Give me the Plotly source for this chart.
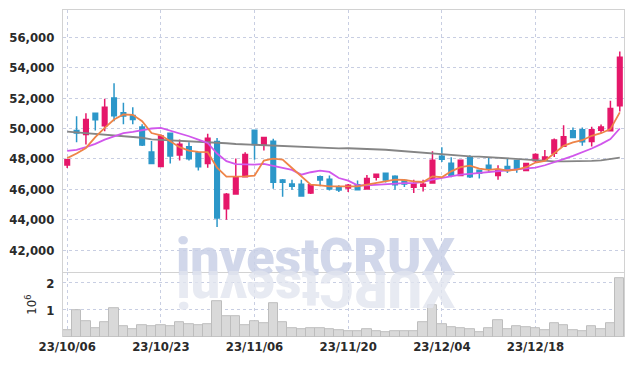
import plotly.graph_objects as go
from plotly.subplots import make_subplots

dates = ["23/10/06", "23/10/10", "23/10/11", "23/10/12", "23/10/13", "23/10/16", "23/10/17", "23/10/18", "23/10/19", "23/10/20",
         "23/10/23", "23/10/24", "23/10/25", "23/10/26", "23/10/27", "23/10/30", "23/10/31", "23/11/01", "23/11/02", "23/11/03",
         "23/11/06", "23/11/07", "23/11/08", "23/11/09", "23/11/10", "23/11/13", "23/11/14", "23/11/15", "23/11/16", "23/11/17",
         "23/11/20", "23/11/21", "23/11/22", "23/11/23", "23/11/24", "23/11/27", "23/11/28", "23/11/29", "23/11/30", "23/12/01",
         "23/12/04", "23/12/05", "23/12/06", "23/12/07", "23/12/08", "23/12/11", "23/12/12", "23/12/13", "23/12/14", "23/12/15",
         "23/12/18", "23/12/19", "23/12/20", "23/12/21", "23/12/22", "23/12/26", "23/12/27", "23/12/28", "24/01/02", "24/01/03"]

open_ = [47600, 49870, 49600, 51000, 50180, 52000, 51040, 50850, 50100, 48450,
         47490, 49690, 48260, 48790, 48400, 47700, 49140, 44720, 45690, 46830,
         49890, 48940, 49160, 46610, 46350, 46330, 45750, 46830, 46660, 46110,
         46080, 46300, 46020, 46790, 47050, 46850, 46570, 46130, 46190, 46410,
         48170, 47710, 46900, 48100, 47250, 47580, 46900, 47490, 47890, 47230,
         47870, 47950, 48370, 48830, 49850, 49910, 49140, 49890, 49850, 51500]
high = [48000, 50800, 51000, 51050, 51950, 52970, 51700, 51400, 50280, 49170,
        49600, 49700, 49270, 49100, 48420, 49650, 49380, 45750, 48020, 48440,
        49900, 49420, 49320, 46680, 46630, 46630, 46310, 46900, 46900, 46260,
        46350, 46570, 46940, 47000, 47060, 46920, 46580, 46630, 46630, 48500,
        48770, 48110, 47950, 48240, 47260, 48130, 47580, 48060, 47900, 47700,
        48370, 48590, 49340, 50220, 50070, 50070, 50110, 50260, 51830, 55060]
low = [47400, 49100, 48950, 49870, 49820, 50480, 50280, 50280, 48840, 47650,
       47450, 47700, 47890, 47900, 47240, 47420, 43510, 44000, 45690, 46800,
       47950, 48550, 46040, 45510, 45970, 45540, 45690, 46190, 45910, 45820,
       45820, 45960, 46000, 46570, 46440, 45970, 46150, 45750, 45860, 46400,
       47800, 46790, 46850, 46740, 46700, 47070, 46630, 47070, 47080, 47220,
       47800, 47930, 48130, 48800, 49380, 48860, 48810, 49690, 49800, 51120]
close = [47950, 49700, 50600, 50570, 51400, 50840, 50820, 50590, 48920, 47690,
         49500, 48190, 48970, 48000, 47480, 49350, 44100, 45670, 46830, 48280,
         48940, 49400, 46460, 46460, 46200, 45560, 46300, 46610, 46020, 45950,
         46260, 45970, 46700, 46990, 46610, 46300, 46350, 46350, 46330, 47910,
         47980, 46920, 47910, 46830, 47050, 47380, 47250, 47230, 47360, 47690,
         48280, 48130, 49250, 49450, 49410, 49120, 49910, 50090, 51320, 54690]

ma_short = [48050, 48350, 48720, 49430, 50040, 50590, 50920, 50900, 50480, 49700,
            49550, 49150, 48770, 48550, 48460, 48440, 47420, 46830, 46830, 46850,
            46900, 47890, 48020, 47950, 47400, 46850, 46300, 46260, 46190, 46190,
            46190, 46190, 46300, 46410, 46570, 46630, 46610, 46520, 46480, 46850,
            46790, 47180, 47450, 47560, 47360, 47270, 47340, 47230, 47290, 47450,
            47760, 47870, 48370, 48860, 49080, 49230, 49520, 49690, 49960, 51060]
ma_mid = [48530, 48590, 48770, 48990, 49270, 49490, 49690, 49780, 49910, 50000,
          50040, 49870, 49690, 49490, 49270, 49050, 48350, 47850, 47650, 47640,
          47620, 47670, 47510, 47400, 47270, 46960, 47120, 47230, 47140, 46740,
          46570, 46260, 46260, 46300, 46350, 46390, 46410, 46410, 46480, 46630,
          46740, 46900, 46960, 47010, 47070, 47140, 47180, 47250, 47340, 47400,
          47430, 47580, 47760, 47980, 48200, 48420, 48680, 48970, 49300, 50000]
ma_long = [49790, 49740, 49690, 49650, 49600, 49560, 49520, 49470, 49390, 49280,
           49250, 49210, 49180, 49160, 49140, 49120, 49090, 49030, 48980, 48950,
           48940, 48920, 48910, 48880, 48840, 48800, 48770, 48740, 48710, 48690,
           48700, 48680, 48660, 48640, 48600, 48550, 48500, 48440, 48380, 48330,
           48290, 48260, 48220, 48170, 48150, 48110, 48060, 48020, 47980, 47940,
           47880, 47850, 47840, 47840, 47840, 47850, 47870, 47900, 47980, 48080]

volume = [0.25e6, 1.00e6, 0.57e6, 0.32e6, 0.53e6, 1.08e6, 0.39e6, 0.28e6, 0.43e6, 0.39e6,
          0.44e6, 0.40e6, 0.53e6, 0.47e6, 0.44e6, 0.47e6, 1.32e6, 0.76e6, 0.76e6, 0.44e6,
          0.57e6, 0.50e6, 1.26e6, 0.53e6, 0.33e6, 0.28e6, 0.33e6, 0.32e6, 0.28e6, 0.27e6,
          0.21e6, 0.21e6, 0.28e6, 0.21e6, 0.17e6, 0.23e6, 0.21e6, 0.23e6, 0.53e6, 1.17e6,
          0.46e6, 0.35e6, 0.32e6, 0.28e6, 0.17e6, 0.32e6, 0.64e6, 0.28e6, 0.39e6, 0.35e6,
          0.32e6, 0.24e6, 0.50e6, 0.44e6, 0.24e6, 0.21e6, 0.39e6, 0.28e6, 0.50e6, 2.17e6]

x_ticks = ["23/10/06", "23/10/23", "23/11/06", "23/11/20", "23/12/04", "23/12/18"]
price_ticks = [42000, 44000, 46000, 48000, 50000, 52000, 54000, 56000]
price_tick_text = ["42,000", "44,000", "46,000", "48,000", "50,000", "52,000", "54,000", "56,000"]
vol_ticks = [1e6, 2e6]
vol_tick_text = ["1", "2"]

UP = "#e5176a"
DOWN = "#2c97c9"
GRID = "#c8cee2"
BORDER = "#d2d2d2"
FONT = "DejaVu Sans Condensed, Liberation Sans Narrow, sans-serif"
TXT = "#2a2a2a"

fig = make_subplots(rows=2, cols=1, shared_xaxes=True, vertical_spacing=0,
                    row_heights=[263, 65])

fig.add_trace(go.Scatter(x=dates, y=ma_long, mode="lines",
                         line=dict(color="#858585", width=1.8), showlegend=False), row=1, col=1)
fig.add_trace(go.Candlestick(x=dates, open=open_, high=high, low=low, close=close,
                             increasing=dict(line=dict(color=UP, width=1.5), fillcolor=UP),
                             decreasing=dict(line=dict(color=DOWN, width=1.5), fillcolor=DOWN),
                             showlegend=False), row=1, col=1)
fig.add_trace(go.Scatter(x=dates, y=ma_mid, mode="lines",
                         line=dict(color="#d157ec", width=1.8), showlegend=False), row=1, col=1)
fig.add_trace(go.Scatter(x=dates, y=ma_short, mode="lines",
                         line=dict(color="#ee8448", width=1.8), showlegend=False), row=1, col=1)
fig.add_trace(go.Bar(x=dates, y=volume, marker=dict(color="#d9d9d9", line=dict(color="#bdbdbd", width=1)),
                     showlegend=False), row=2, col=1)

W, H = 634, 366
L, R, T, B = 61, 9, 9, 29
pw, ph = W - L - R, H - T - B


def px_x(p):
    return (p - L) / pw


def px_y(p):
    return (H - B - p) / ph


fig.update_layout(
    width=W, height=H,
    margin=dict(l=L, r=R, t=T, b=B),
    paper_bgcolor="white", plot_bgcolor="white",
    bargap=0,
    showlegend=False,
    font=dict(family=FONT, size=13, color=TXT),
)

common_x = dict(type="category", categoryorder="array", categoryarray=dates,
                range=[-0.45, 59.45], tickmode="array", tickvals=x_ticks,
                showgrid=True, gridcolor=GRID, griddash="dot", gridwidth=1,
                zeroline=False)
fig.update_xaxes(**common_x)
fig.update_xaxes(rangeslider_visible=False, showticklabels=False, ticks="",
                 showline=True, linecolor=BORDER, linewidth=1, mirror=True, row=1, col=1)
fig.update_xaxes(showticklabels=True, ticks="", tickfont=dict(family=FONT, size=13, color=TXT, weight="bold"),
                 showline=False, row=2, col=1)

fig.update_yaxes(range=[40540, 57800], tickmode="array", tickvals=price_ticks, ticktext=price_tick_text,
                 showgrid=True, gridcolor=GRID, griddash="dot", gridwidth=1, zeroline=False,
                 ticks="outside", ticklen=5, tickcolor="rgba(0,0,0,0)",
                 tickfont=dict(family=FONT, size=13, color=TXT, weight="bold"),
                 showline=True, linecolor=BORDER, linewidth=1, mirror=True, row=1, col=1)
fig.update_yaxes(range=[0, 2.4e6], tickmode="array", tickvals=vol_ticks, ticktext=vol_tick_text,
                 showgrid=True, gridcolor=GRID, griddash="dot", gridwidth=1, zeroline=False,
                 ticks="outside", ticklen=5, tickcolor="rgba(0,0,0,0)",
                 tickfont=dict(family=FONT, size=13, color=TXT, weight="bold"),
                 title=dict(text="10<sup>6</sup>", font=dict(family=FONT, size=13, color=TXT), standoff=6),
                 showline=True, linecolor=BORDER, linewidth=1, mirror=True, row=2, col=1)

# watermark
fig.add_annotation(text="investCRUX", xref="paper", yref="paper", x=px_x(315), y=px_y(290),
                   xanchor="center", yanchor="bottom", showarrow=False,
                   font=dict(family="Roboto", size=52, color="#cad1e7", weight=900), opacity=0.85)
fig.add_annotation(text="XURCtsevni", xref="paper", yref="paper", x=px_x(315), y=px_y(256),
                   xanchor="center", yanchor="top", showarrow=False, textangle=180,
                   font=dict(family="Roboto", size=52, color="#e2e5ef", weight=900), opacity=0.8)

fig.write_html("out.html")
